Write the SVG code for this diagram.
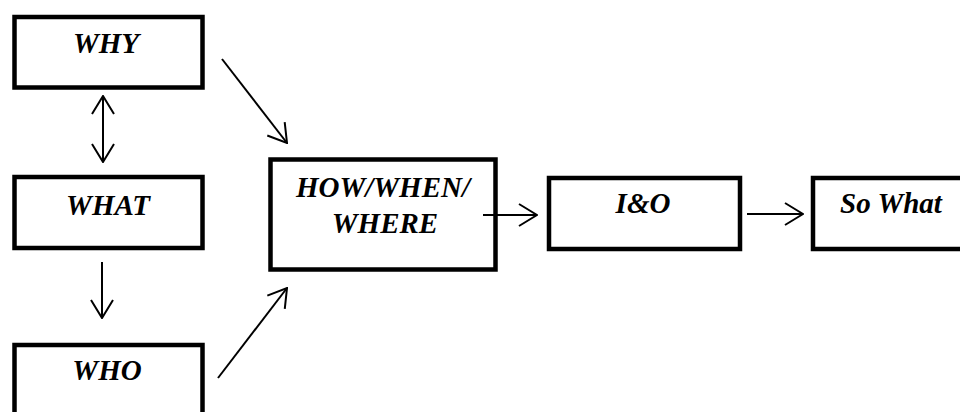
<svg xmlns="http://www.w3.org/2000/svg" width="960" height="412" viewBox="0 0 960 412">
<defs>
<style>
.box{fill:#fff;stroke:#000;stroke-width:4.5}
.lbl{font-family:"Liberation Serif","Times New Roman",serif;font-weight:bold;font-style:italic;font-size:29px;fill:#000;text-anchor:middle}
.con{stroke:#000;stroke-width:2;fill:none}
</style>
<marker id="ah" viewBox="0 0 20 24" refX="19" refY="12" markerWidth="20" markerHeight="24" markerUnits="userSpaceOnUse" orient="auto-start-reverse">
<path d="M1,1 L19,12 L1,23" fill="none" stroke="#000" stroke-width="2"/>
</marker>
</defs>
<rect width="960" height="412" fill="#fff"/>
<g id="why"><rect class="box" x="14.5" y="17" width="188" height="70.5"/><text class="lbl" x="106" y="53">WHY</text></g>
<g id="what"><rect class="box" x="14.5" y="177" width="188" height="71"/><text class="lbl" x="108" y="215">WHAT</text></g>
<g id="who"><rect class="box" x="14.5" y="345" width="188" height="90"/><text class="lbl" x="107" y="380">WHO</text></g>
<g id="how"><rect class="box" x="270.5" y="159.5" width="225" height="110"/><text class="lbl" x="383" y="197">HOW/WHEN/</text><text class="lbl" x="385" y="233">WHERE</text></g>
<g id="io"><rect class="box" x="549" y="178" width="191" height="71"/><text class="lbl" x="643" y="213">I&amp;O</text></g>
<g id="sowhat"><rect class="box" x="813" y="178" width="170" height="71"/><text class="lbl" x="891" y="213">So What</text></g>
<g id="connectors">
<line class="con" x1="103" y1="96" x2="103" y2="162" marker-start="url(#ah)" marker-end="url(#ah)"/>
<line class="con" x1="102" y1="262" x2="102" y2="318" marker-end="url(#ah)"/>
<line class="con" x1="222" y1="59" x2="287" y2="143" marker-end="url(#ah)"/>
<line class="con" x1="218" y1="378" x2="287" y2="288" marker-end="url(#ah)"/>
<line class="con" x1="483" y1="215" x2="537" y2="215" marker-end="url(#ah)"/>
<line class="con" x1="747" y1="214" x2="803" y2="214" marker-end="url(#ah)"/>
</g>
</svg>
